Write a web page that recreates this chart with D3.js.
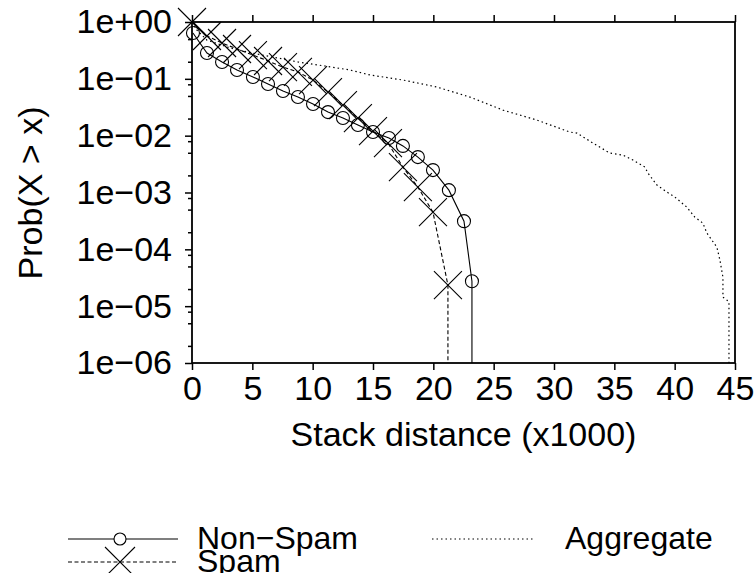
<!DOCTYPE html>
<html>
<head>
<meta charset="utf-8">
<script src="https://cdn.jsdelivr.net/npm/d3@7"></script>
<style>
  body { margin: 0; background: #fff; }
  text { font-family: "Liberation Sans", Arial, Helvetica, sans-serif; fill: #000; }
</style>
</head>
<body>
<svg id="chart" width="755" height="573"></svg>
<script>
// stack distance (x1000) and Prob(X > x)
var nonSpamX = [0.08, 1.24, 2.49, 3.73, 5.05, 6.30, 7.54, 8.78, 10.03, 11.27, 12.51, 13.75, 15.00, 16.32, 17.48, 18.72, 19.97, 21.29, 22.54, 23.2];
var nonSpamY = [0.64, 0.284, 0.198, 0.143, 0.108, 0.081, 0.061, 0.0478, 0.036, 0.026, 0.0204, 0.0154, 0.0116, 0.0091, 0.0066, 0.0042, 0.00248, 0.0011, 0.000313, 2.75e-5];

var spamX = [0, 1.24, 2.49, 3.73, 5.05, 6.30, 7.54, 8.78, 10.03, 11.27, 12.51, 13.75, 15.00, 16.24, 17.48, 18.72, 19.97, 21.21];
var spamY = [1.0, 0.567, 0.427, 0.335, 0.262, 0.206, 0.161, 0.132, 0.0953, 0.0586, 0.0346, 0.0204, 0.0120, 0.0074, 0.0028, 0.00124, 0.000452, 2.34e-5];

var aggX = [0, 0.41, 1.24, 3.15, 4.97, 7.13, 8.78, 11.02, 13.09, 14.75, 17.48, 20.30, 23.03, 25.77, 28.58, 31.32, 31.9, 33.22, 34.63, 35.71, 36.54, 37.53, 37.78, 38.53, 39.35, 40.02, 41.01, 41.67, 42.34, 42.67, 43.50, 43.75, 44.0, 44.0, 44.32, 44.5];
var aggY = [1.0, 0.72, 0.48, 0.35, 0.284, 0.232, 0.198, 0.168, 0.143, 0.117, 0.0953, 0.0717, 0.0478, 0.0282, 0.0188, 0.01157, 0.0111, 0.00741, 0.00494, 0.00455, 0.00372, 0.0028, 0.0022, 0.00135, 0.00102, 0.00083, 0.000553, 0.000369, 0.000289, 0.000193, 0.000109, 6.46e-5, 3.24e-5, 1.44e-5, 1.28e-5, 1.18e-5];

var xTicks = [0, 5, 10, 15, 20, 25, 30, 35, 40, 45];
var yTicks = [1, 1e-1, 1e-2, 1e-3, 1e-4, 1e-5, 1e-6];
var yTickLabels = ["1e+00", "1e\u221201", "1e\u221202", "1e\u221203", "1e\u221204", "1e\u221205", "1e\u221206"];
var yMinorSteps = [2, 5, 8];

var LEFT = 192, RIGHT = 735, TOP = 22, BOTTOM = 363;
var FONT = 34, LEG_FONT = 32;

var svg = d3.select("#chart");

var x = d3.scaleLinear().domain([0, 45]).range([LEFT, RIGHT]);
var y = d3.scaleLog().domain([1e-6, 1]).range([BOTTOM, TOP]);

// minor ticks on y (2 and 5 of each decade, 8 of the decade below)
var yMinor = [];
for (var e = -6; e < 0; e++) {
    yMinorSteps.forEach(function(m) {
        var v = m * Math.pow(10, e);
        if (m == 8) v = m * Math.pow(10, e - 1);
        if (v >= 1e-6 && v <= 1) yMinor.push(v);
    });
}

var gAxes = svg.append("g");

var xAxis = d3.axisBottom(x).tickValues(xTicks).tickSize(7).tickSizeOuter(0).tickPadding(6).tickFormat(d3.format("d"));
gAxes.append("g").attr("transform", "translate(0," + BOTTOM + ")").call(xAxis);

var xAxisTop = d3.axisTop(x).tickValues(xTicks).tickSize(7).tickSizeOuter(0).tickFormat("");
gAxes.append("g").attr("transform", "translate(0," + TOP + ")").call(xAxisTop);

var yAxis = d3.axisLeft(y).tickValues(yTicks).tickSize(7).tickSizeOuter(0).tickPadding(13)
    .tickFormat(function(d, i) { return yTickLabels[i]; });
gAxes.append("g").attr("transform", "translate(" + LEFT + ",0)").call(yAxis);

var yAxisMinor = d3.axisLeft(y).tickValues(yMinor).tickSize(4).tickSizeOuter(0).tickFormat("");
gAxes.append("g").attr("transform", "translate(" + LEFT + ",0)").call(yAxisMinor);

gAxes.selectAll(".domain").remove();
gAxes.selectAll(".tick line").attr("stroke", "#000").attr("stroke-width", 1.5);
gAxes.selectAll(".tick text").style("font-size", FONT + "px").attr("fill", "#000");

gAxes.append("rect")
    .attr("x", LEFT).attr("y", TOP)
    .attr("width", RIGHT - LEFT).attr("height", BOTTOM - TOP)
    .attr("fill", "none").attr("stroke", "#000").attr("stroke-width", 1.8);

// axis titles
svg.append("text")
    .attr("x", (LEFT + RIGHT) / 2) .attr("y", 446)
    .attr("text-anchor", "middle").style("font-size", FONT + "px")
    .text("Stack distance (x1000)");

svg.append("text")
    .attr("transform", "translate(42," + 193 + ") rotate(-90)")
    .attr("text-anchor", "middle").style("font-size", FONT + "px")
    .text("Prob(X > x)");

// series
svg.append("clipPath").attr("id", "plotclip")
    .append("rect").attr("x", LEFT).attr("y", TOP - 20)
    .attr("width", RIGHT - LEFT).attr("height", BOTTOM - TOP + 20);

var line = d3.line().x(function(d) { return x(d[0]); }).y(function(d) { return y(d[1]); });

var toPoints = function(xs, ys) {
    return xs.map(function(v, i) { return [v, ys[i]]; });
}
// each curve falls to zero after its last value, so drop to the floor of the axis
var withDrop = function(pts) {
    var last = pts[pts.length - 1];
    return pts.concat([[last[0], y.domain()[0]]]);
}

var nonSpam = toPoints(nonSpamX, nonSpamY);
var spam = toPoints(spamX, spamY);
var agg = toPoints(aggX, aggY);

var gLines = svg.append("g").attr("clip-path", "url(#plotclip)");

gLines.append("path").datum(withDrop(agg))
    .attr("d", line).attr("fill", "none").attr("stroke", "#000")
    .attr("stroke-width", 1.2).attr("stroke-dasharray", "1.5,3");

gLines.append("path").datum(withDrop(spam))
    .attr("d", line).attr("fill", "none").attr("stroke", "#000")
    .attr("stroke-width", 1.1).attr("stroke-dasharray", "4,2.5");

gLines.append("path").datum(withDrop(nonSpam))
    .attr("d", line).attr("fill", "none").attr("stroke", "#000")
    .attr("stroke-width", 1.1);

var CIRCLE_R = 6.5, CROSS = 14;

var drawCross = function(g, cx, cy, s) {
    g.append("path")
        .attr("d", "M" + (cx - s) + "," + (cy - s) + "L" + (cx + s) + "," + (cy + s) +
                   "M" + (cx - s) + "," + (cy + s) + "L" + (cx + s) + "," + (cy - s))
        .attr("stroke", "#000").attr("stroke-width", 1.1).attr("fill", "none");
}

var gMarks = svg.append("g");
gMarks.selectAll("circle.ns").data(nonSpam).enter().append("circle")
    .attr("class", "ns")
    .attr("cx", function(d) { return x(d[0]); })
    .attr("cy", function(d) { return y(d[1]); })
    .attr("r", CIRCLE_R)
    .attr("fill", "none").attr("stroke", "#000").attr("stroke-width", 1.1);

spam.forEach(function(d) { drawCross(gMarks, x(d[0]), y(d[1]), CROSS); });

// legend
var gLeg = svg.append("g");
gLeg.append("line").attr("x1", 68).attr("x2", 178).attr("y1", 539).attr("y2", 539)
    .attr("stroke", "#000").attr("stroke-width", 1.1);
gLeg.append("circle").attr("cx", 120).attr("cy", 539).attr("r", 6)
    .attr("fill", "#fff").attr("stroke", "#000").attr("stroke-width", 1.1);
gLeg.append("text").attr("x", 197).attr("y", 549).style("font-size", LEG_FONT + "px").text("Non\u2212Spam");

gLeg.append("line").attr("x1", 68).attr("x2", 178).attr("y1", 562).attr("y2", 562)
    .attr("stroke", "#000").attr("stroke-width", 1.1).attr("stroke-dasharray", "4,2.5");
drawCross(gLeg, 120, 562, 15);
gLeg.append("text").attr("x", 197).attr("y", 572).style("font-size", LEG_FONT + "px").text("Spam");

gLeg.append("line").attr("x1", 432).attr("x2", 535).attr("y1", 539).attr("y2", 539)
    .attr("stroke", "#000").attr("stroke-width", 1.2).attr("stroke-dasharray", "1.5,3");
gLeg.append("text").attr("x", 565).attr("y", 549).style("font-size", LEG_FONT + "px").text("Aggregate");
</script>
</body>
</html>
